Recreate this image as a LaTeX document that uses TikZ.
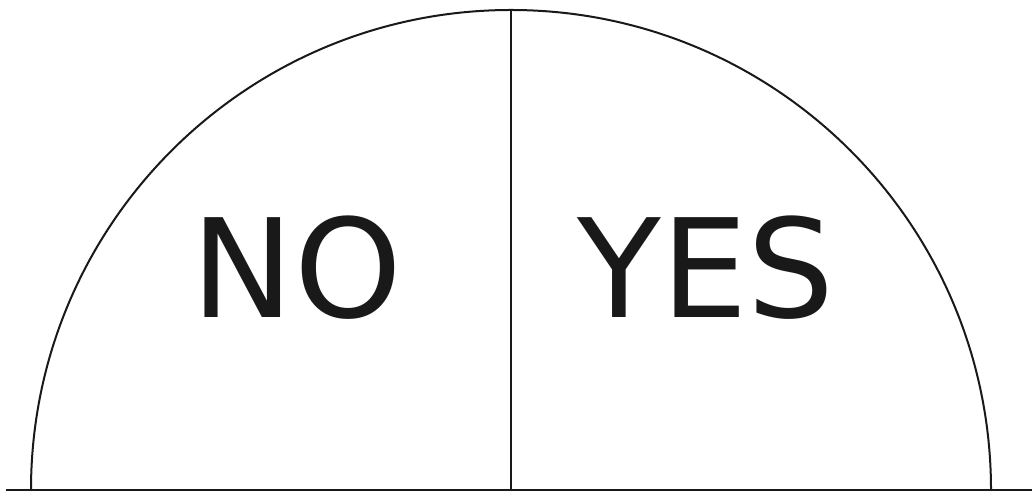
\documentclass[tikz,border=0pt]{standalone}
\usepackage{fontspec}
\setmainfont{DejaVu Sans}
\usetikzlibrary{calc}
\tikzset{
  rim/.style = {line width=2pt, draw=black!90},
  answer/.style = {anchor=base, inner sep=0pt, text=black!90,
    font=\fontsize{137}{137}\selectfont}
}
\begin{document}
\begin{tikzpicture}[x=1pt,y=1pt]
  \useasboundingbox (0,0) rectangle (1032,492);
  \coordinate (o) at (511,2);
  \coordinate (top) at (511,482);
  \coordinate (left) at (6,2);
  \coordinate (right) at (1032,2);
  % half disc
  \draw[rim] (left) -- (right);
  \draw[rim] ($(o)+(-480,0)$) arc[start angle=180, end angle=0, radius=480];
  \draw[rim] (o) -- (top);
  % labels
  \node[answer] (no) at (297,174) {NO};
  \node[answer] (yes) at (706,174) {YES};
\end{tikzpicture}
\end{document}
